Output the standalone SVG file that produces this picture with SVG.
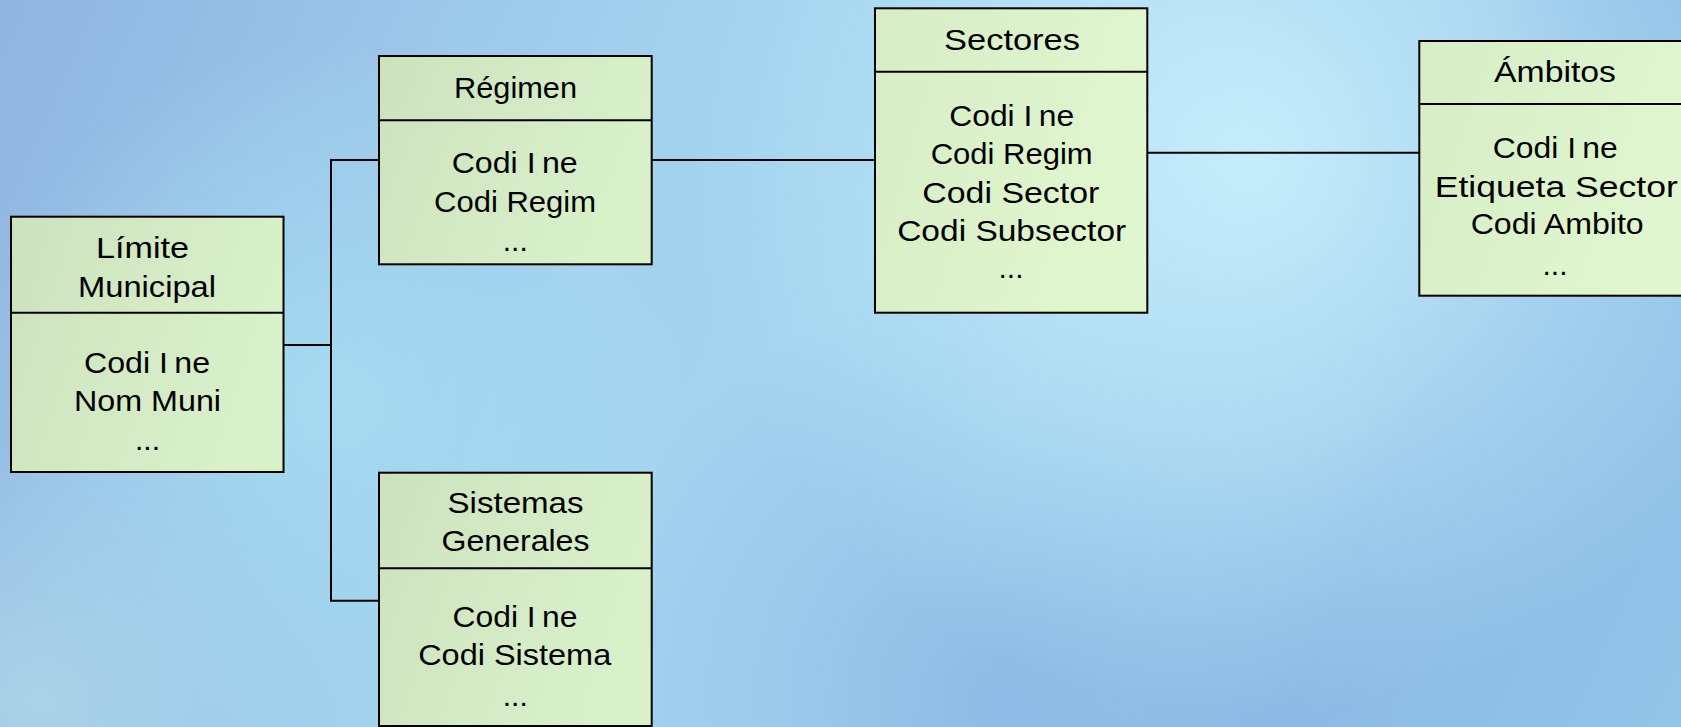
<svg xmlns="http://www.w3.org/2000/svg" width="1681" height="727" viewBox="0 0 1681 727">
  <defs>
    <linearGradient id="bg" x1="0" y1="0" x2="1681" y2="727" gradientUnits="userSpaceOnUse">
      <stop offset="0" stop-color="#8fb4e0"/>
      <stop offset="0.35" stop-color="#a3d2ee"/>
      <stop offset="0.6" stop-color="#a6d6f0"/>
      <stop offset="0.8" stop-color="#8cbae4"/>
      <stop offset="1" stop-color="#94c4e8"/>
    </linearGradient>
    <radialGradient id="hl1" cx="1250" cy="160" r="560" gradientUnits="userSpaceOnUse">
      <stop offset="0" stop-color="#c8eefb" stop-opacity="0.95"/>
      <stop offset="0.5" stop-color="#bde7f7" stop-opacity="0.6"/>
      <stop offset="1" stop-color="#b5e3f5" stop-opacity="0"/>
    </radialGradient>
    <radialGradient id="hl2" cx="330" cy="400" r="360" gradientUnits="userSpaceOnUse">
      <stop offset="0" stop-color="#a6dcf1" stop-opacity="0.9"/>
      <stop offset="1" stop-color="#a6dcf1" stop-opacity="0"/>
    </radialGradient>
    <radialGradient id="hl3" cx="40" cy="700" r="260" gradientUnits="userSpaceOnUse">
      <stop offset="0" stop-color="#acd4e8" stop-opacity="0.9"/>
      <stop offset="1" stop-color="#acd4e8" stop-opacity="0"/>
    </radialGradient>
    <radialGradient id="dk" cx="1000" cy="700" r="420" gradientUnits="userSpaceOnUse">
      <stop offset="0" stop-color="#88b5e2" stop-opacity="0.8"/>
      <stop offset="1" stop-color="#88b5e2" stop-opacity="0"/>
    </radialGradient>
    <linearGradient id="box" x1="0" y1="0" x2="1" y2="0.3">
      <stop offset="0" stop-color="#cce2bf"/>
      <stop offset="1" stop-color="#d9f1c9"/>
    </linearGradient>
    <linearGradient id="boxl" x1="0" y1="0" x2="1" y2="0.3">
      <stop offset="0" stop-color="#d6edc6"/>
      <stop offset="1" stop-color="#e0f6ce"/>
    </linearGradient>
    <style>
      .bx { fill: url(#box); stroke: #000; stroke-width: 2; }
      .bxl { fill: url(#boxl); stroke: #000; stroke-width: 2; }
      .dv { stroke: #000; stroke-width: 2; fill: none; }
      .cn { stroke: #000; stroke-width: 2; fill: none; }
      text { font-family: "Liberation Sans", Arial, sans-serif; font-size: 30px; fill: #000; text-anchor: middle; }
    </style>
  </defs>

  <rect x="0" y="0" width="1681" height="727" fill="url(#bg)"/>
  <rect x="0" y="0" width="1681" height="727" fill="url(#dk)"/>
  <rect x="0" y="0" width="1681" height="727" fill="url(#hl1)"/>
  <rect x="0" y="0" width="1681" height="727" fill="url(#hl2)"/>
  <rect x="0" y="0" width="1681" height="727" fill="url(#hl3)"/>

  <g id="connectors">
    <polyline class="cn" points="283.5,345 331,345"/>
    <polyline class="cn" points="379,160 331,160 331,600.7 379,600.7"/>
    <polyline class="cn" points="651.7,160 875,160"/>
    <polyline class="cn" points="1147.3,152.7 1419.3,152.7"/>
  </g>

  <g id="limite">
    <rect class="bx" x="11" y="216.7" width="272.5" height="255.3"/>
    <line class="dv" x1="11" y1="312.7" x2="283.5" y2="312.7"/>
    <text x="142.5" y="258.3" textLength="93" lengthAdjust="spacingAndGlyphs">Límite</text>
    <text x="147" y="296.7" textLength="138" lengthAdjust="spacingAndGlyphs">Municipal</text>
    <text x="147" y="372.7" textLength="126" lengthAdjust="spacingAndGlyphs">Codi I<tspan dx="6">ne</tspan></text>
    <text x="147.5" y="410.7" textLength="147" lengthAdjust="spacingAndGlyphs">Nom Muni</text>
    <text x="147.5" y="450">...</text>
  </g>

  <g id="regimen">
    <rect class="bx" x="379" y="56" width="272.7" height="208.3"/>
    <line class="dv" x1="379" y1="120.3" x2="651.7" y2="120.3"/>
    <text x="515.5" y="98.3" textLength="123" lengthAdjust="spacingAndGlyphs">Régimen</text>
    <text x="514.7" y="173.3" textLength="126" lengthAdjust="spacingAndGlyphs">Codi I<tspan dx="6">ne</tspan></text>
    <text x="515" y="211.7" textLength="162" lengthAdjust="spacingAndGlyphs">Codi Regim</text>
    <text x="515.3" y="250.7">...</text>
  </g>

  <g id="sistemas">
    <rect class="bx" x="379" y="472.7" width="272.7" height="253.3"/>
    <line class="dv" x1="379" y1="568.3" x2="651.7" y2="568.3"/>
    <text x="515.5" y="513.3" textLength="136" lengthAdjust="spacingAndGlyphs">Sistemas</text>
    <text x="515.5" y="550.7" textLength="148" lengthAdjust="spacingAndGlyphs">Generales</text>
    <text x="515" y="626.7" textLength="125" lengthAdjust="spacingAndGlyphs">Codi I<tspan dx="6">ne</tspan></text>
    <text x="514.7" y="665" textLength="193" lengthAdjust="spacingAndGlyphs">Codi Sistema</text>
    <text x="515.3" y="706">...</text>
  </g>

  <g id="sectores">
    <rect class="bxl" x="875" y="8.3" width="272.3" height="304.4"/>
    <line class="dv" x1="875" y1="71.7" x2="1147.3" y2="71.7"/>
    <text x="1012" y="50" textLength="136" lengthAdjust="spacingAndGlyphs">Sectores</text>
    <text x="1011.7" y="126" textLength="125" lengthAdjust="spacingAndGlyphs">Codi I<tspan dx="6">ne</tspan></text>
    <text x="1011.7" y="164.3" textLength="162" lengthAdjust="spacingAndGlyphs">Codi Regim</text>
    <text x="1010.8" y="202.7" textLength="177" lengthAdjust="spacingAndGlyphs">Codi Sector</text>
    <text x="1011.7" y="240.7" textLength="229" lengthAdjust="spacingAndGlyphs">Codi Subsector</text>
    <text x="1011" y="278.3">...</text>
  </g>

  <g id="ambitos">
    <rect class="bxl" x="1419.3" y="41" width="272" height="254.7"/>
    <line class="dv" x1="1419.3" y1="104" x2="1691.3" y2="104"/>
    <text x="1555" y="82.3" textLength="122" lengthAdjust="spacingAndGlyphs">Ámbitos</text>
    <text x="1555.3" y="158.3" textLength="125" lengthAdjust="spacingAndGlyphs">Codi I<tspan dx="6">ne</tspan></text>
    <text x="1556.3" y="196.7" textLength="243" lengthAdjust="spacingAndGlyphs">Etiqueta Sector</text>
    <text x="1557.2" y="234" textLength="173" lengthAdjust="spacingAndGlyphs">Codi Ambito</text>
    <text x="1555" y="275">...</text>
  </g>
</svg>
